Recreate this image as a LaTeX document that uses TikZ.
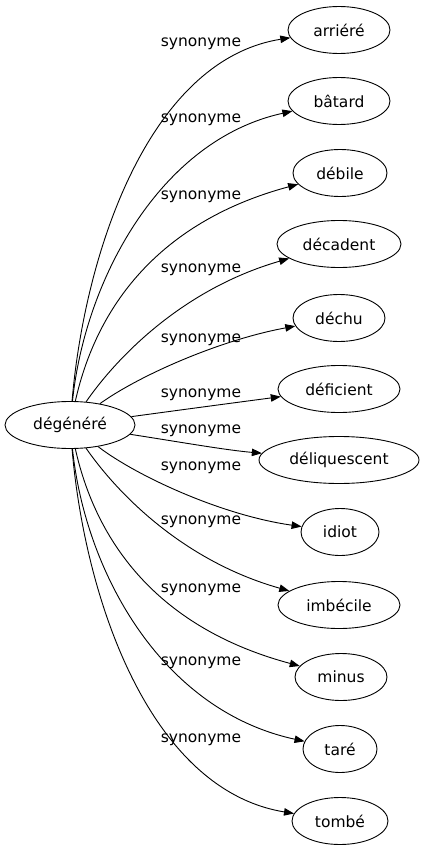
\documentclass[tikz,border=0pt]{standalone}
\usepackage{fontspec}
\setmainfont{DejaVu Sans}
\usetikzlibrary{arrows.meta,shapes.geometric}

\begin{document}
\begin{tikzpicture}[x=1pt,y=-1pt]
        \tikzstyle{every node} = [font=\fontsize{15.5}{18}\selectfont, inner sep=0pt]
        \tikzstyle{word} = [ellipse, draw, line width=0.9pt, minimum height=47pt]
        \tikzstyle{syn} = [-{Triangle[length=10pt,width=7.5pt]}, line width=0.9pt]
        \useasboundingbox (0,0) rectangle (425,851);
        \node[word, minimum width=130pt] (deg) at (70,425) {dégénéré};
        \node[word, minimum width=102pt] (arr) at (339,30) {arriéré};
        \node[word, minimum width=102pt] (bat) at (339,101) {bâtard};
        \node[word, minimum width=94pt] (deb) at (340,173) {débile};
        \node[word, minimum width=124pt] (dec) at (339,244) {décadent};
        \node[word, minimum width=92pt] (dch) at (339,318) {déchu};
        \node[word, minimum width=122pt] (def) at (339,389) {déficient};
        \node[word, minimum width=160pt] (del) at (339,460) {déliquescent};
        \node[word, minimum width=78pt] (idi) at (340,532) {idiot};
        \node[word, minimum width=122pt] (imb) at (339,605) {imbécile};
        \node[word, minimum width=92pt] (min) at (341,677) {minus};
        \node[word, minimum width=74pt] (tar) at (340,749) {taré};
        \node[word, minimum width=96pt] (tom) at (340,821) {tombé};
        \foreach \n/\y in {1/44, 2/120, 3/197, 4/270, 5/340, 6/395, 7/431, 8/468, 9/522, 10/590, 11/663, 12/740}
            \node (lab\n) at (201,\y) {synonyme};
        \foreach \to/\ax/\ay/\bx/\by in {arr/85/250/150/60, bat/85/280/160/140, deb/98/300/165/220,
                dec/115/360/180/290, dch/140/375/220/340, def/180/410/240/402,
                del/180/442/225/450, idi/135/475/220/515, imb/115/490/180/560,
                min/98/550/165/630, tar/85/570/160/710, tom/85/600/150/790}
            \draw[syn] (deg) .. controls (\ax,\ay) and (\bx,\by) .. (\to);
    \end{tikzpicture}
\end{document}
